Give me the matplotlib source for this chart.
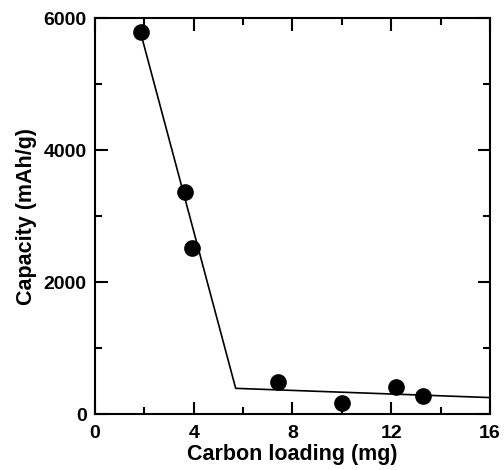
import matplotlib
matplotlib.use("Agg")
import matplotlib.pyplot as plt
from matplotlib.ticker import MultipleLocator

# Data
loading_mg = [1.85, 3.65, 3.95, 7.4, 10.0, 12.2, 13.3]
capacity = [5800, 3370, 2520, 490, 170, 410, 280]
fit_x = [1.85, 5.7, 16.0]
fit_y = [5780, 390, 250]
x_ticks = [0, 4, 8, 12, 16]
y_ticks = [0, 2000, 4000, 6000]

plt.rcParams['font.family'] = ['Liberation Sans', 'DejaVu Sans']
plt.rcParams['font.weight'] = 'bold'

fig = plt.figure(figsize=(5.04, 4.70), dpi=100)
ax = fig.add_axes([0.1885, 0.119, 0.7835, 0.842])

ax.plot(fit_x, fit_y, color='black', lw=1.2, zorder=2)
ax.plot(loading_mg, capacity, 'o', color='black', ms=11, zorder=3, clip_on=False)

ax.set_xlim(0, 16)
ax.set_ylim(0, 6000)
ax.set_xticks(x_ticks)
ax.set_yticks(y_ticks)
ax.xaxis.set_minor_locator(MultipleLocator(2))
ax.yaxis.set_minor_locator(MultipleLocator(1000))
ax.tick_params(which='both', direction='in', top=True, right=True, width=1.5, labelsize=14)
ax.tick_params(axis='x', pad=8)
ax.tick_params(axis='y', pad=6)
ax.tick_params(which='major', length=9)
ax.tick_params(which='minor', length=5)
for lab in ax.get_xticklabels() + ax.get_yticklabels():
    lab.set_fontweight('bold')
for s in ax.spines.values():
    s.set_linewidth(1.5)

ax.set_xlabel('Carbon loading (mg)', fontsize=15.5, fontweight='bold', labelpad=1)
ax.set_ylabel('Capacity (mAh/g)', fontsize=15.5, fontweight='bold', labelpad=5)

fig.savefig('out.png', dpi=100)
